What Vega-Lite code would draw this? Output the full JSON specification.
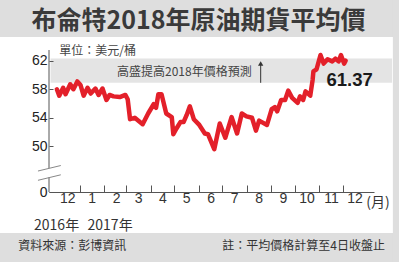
{
  "$schema": "https://vega.github.io/schema/vega-lite/v6.json",
  "width": 325,
  "height": 142,
  "autosize": {"type": "none"},
  "padding": {"left": 49, "top": 50, "right": 25, "bottom": 70},
  "background": "#ffffff",
  "config": {
    "view": {"stroke": null},
    "font": "Noto Sans CJK TC",
    "axis": {"labelOverlap": false, "labelBound": false, "labelFlush": false}
  },
  "data": {"values": [{"note": "annotation"}]},
  "resolve": {"axis": {"x": "independent", "y": "independent"}},
  "datasets": {
    "brent": [
      {"date": "2016-12-03", "price": 58.0},
      {"date": "2016-12-06", "price": 57.1},
      {"date": "2016-12-11", "price": 58.2},
      {"date": "2016-12-14", "price": 57.3},
      {"date": "2016-12-20", "price": 58.7},
      {"date": "2016-12-24", "price": 58.0},
      {"date": "2016-12-29", "price": 59.1},
      {"date": "2017-01-02", "price": 58.6},
      {"date": "2017-01-06", "price": 57.1},
      {"date": "2017-01-11", "price": 58.2},
      {"date": "2017-01-15", "price": 57.4},
      {"date": "2017-01-21", "price": 58.1},
      {"date": "2017-01-25", "price": 57.2},
      {"date": "2017-01-30", "price": 58.1},
      {"date": "2017-02-04", "price": 56.5},
      {"date": "2017-02-08", "price": 57.2},
      {"date": "2017-02-13", "price": 57.0},
      {"date": "2017-02-21", "price": 56.9},
      {"date": "2017-02-28", "price": 57.2},
      {"date": "2017-03-03", "price": 56.6},
      {"date": "2017-03-06", "price": 53.8},
      {"date": "2017-03-12", "price": 54.0},
      {"date": "2017-03-22", "price": 53.1},
      {"date": "2017-03-29", "price": 54.6},
      {"date": "2017-04-05", "price": 55.9},
      {"date": "2017-04-08", "price": 55.4},
      {"date": "2017-04-11", "price": 57.3},
      {"date": "2017-04-15", "price": 57.3},
      {"date": "2017-04-21", "price": 54.6},
      {"date": "2017-04-28", "price": 54.1},
      {"date": "2017-04-30", "price": 51.7},
      {"date": "2017-05-04", "price": 52.5},
      {"date": "2017-05-09", "price": 53.4},
      {"date": "2017-05-13", "price": 53.4},
      {"date": "2017-05-17", "price": 54.4},
      {"date": "2017-05-21", "price": 55.6},
      {"date": "2017-05-26", "price": 53.8},
      {"date": "2017-06-02", "price": 53.0},
      {"date": "2017-06-09", "price": 51.8},
      {"date": "2017-06-13", "price": 51.7},
      {"date": "2017-06-21", "price": 49.6},
      {"date": "2017-06-28", "price": 53.2},
      {"date": "2017-07-05", "price": 51.2},
      {"date": "2017-07-13", "price": 54.1},
      {"date": "2017-07-20", "price": 51.8},
      {"date": "2017-07-26", "price": 54.6},
      {"date": "2017-08-01", "price": 54.2},
      {"date": "2017-08-08", "price": 54.0},
      {"date": "2017-08-13", "price": 52.2},
      {"date": "2017-08-17", "price": 53.6},
      {"date": "2017-08-27", "price": 53.0},
      {"date": "2017-09-02", "price": 55.2},
      {"date": "2017-09-06", "price": 55.5},
      {"date": "2017-09-09", "price": 54.9},
      {"date": "2017-09-14", "price": 56.5},
      {"date": "2017-09-19", "price": 56.5},
      {"date": "2017-09-23", "price": 57.8},
      {"date": "2017-09-28", "price": 56.8},
      {"date": "2017-10-05", "price": 56.1},
      {"date": "2017-10-08", "price": 57.0},
      {"date": "2017-10-12", "price": 56.5},
      {"date": "2017-10-15", "price": 57.7},
      {"date": "2017-10-21", "price": 57.1},
      {"date": "2017-10-24", "price": 59.3},
      {"date": "2017-10-25", "price": 60.5},
      {"date": "2017-10-29", "price": 60.8},
      {"date": "2017-11-03", "price": 62.8},
      {"date": "2017-11-07", "price": 61.6},
      {"date": "2017-11-12", "price": 62.2},
      {"date": "2017-11-18", "price": 61.9},
      {"date": "2017-11-22", "price": 62.3},
      {"date": "2017-11-26", "price": 61.9},
      {"date": "2017-11-29", "price": 62.8},
      {"date": "2017-12-03", "price": 61.6},
      {"date": "2017-12-05", "price": 62.0}
    ]
  },
  "layer": [
    {
      "mark": {"type": "rect", "color": "#dedede", "clip": false},
      "encoding": {
        "x": {
          "datum": {"year": 2016, "month": 8, "date": 1, "utc": true}, "type": "temporal",
          "scale": {"type": "utc", "nice": false, "domain": [{"year": 2016, "month": 11, "date": 23, "utc": true}, {"year": 2018, "month": 1, "date": 10, "utc": true}]},
          "axis": {
            "orient": "bottom",
            "values": [
              {"year": 2016, "month": 12, "date": 1, "utc": true},
              {"year": 2017, "month": 1, "date": 1, "utc": true},
              {"year": 2017, "month": 2, "date": 1, "utc": true},
              {"year": 2017, "month": 3, "date": 1, "utc": true},
              {"year": 2017, "month": 4, "date": 1, "utc": true},
              {"year": 2017, "month": 5, "date": 1, "utc": true},
              {"year": 2017, "month": 6, "date": 1, "utc": true},
              {"year": 2017, "month": 7, "date": 1, "utc": true},
              {"year": 2017, "month": 8, "date": 1, "utc": true},
              {"year": 2017, "month": 9, "date": 1, "utc": true},
              {"year": 2017, "month": 10, "date": 1, "utc": true},
              {"year": 2017, "month": 11, "date": 1, "utc": true},
              {"year": 2017, "month": 12, "date": 1, "utc": true}
            ],
            "labelExpr": "utcFormat(datum.value, '%-m')",
            "title": null, "grid": false,
            "ticks": true, "tickSize": -7, "tickColor": "#555555", "tickWidth": 1,
            "tickOpacity": {"condition": {"test": "utcyear(datum.value) == 2016", "value": 0}, "value": 1},
            "domain": true, "domainColor": "#555555", "domainWidth": 1,
            "labelOffset": 12, "labelPadding": 6, "labelFlush": false, "labelOverlap": false, "labelBound": false,
            "labelFont": "Liberation Sans", "labelFontSize": 14, "labelColor": "#333333", "zindex": 1
          }
        },
        "x2": {"datum": {"year": 2018, "month": 5, "date": 1, "utc": true}},
        "y": {
          "datum": 65.32, "type": "quantitative",
          "scale": {"nice": false, "zero": false, "domain": [43.6, 63.5]},
          "axis": {
            "orient": "left",
            "values": [43.6, 50, 54, 58, 62],
            "labelExpr": "datum.value < 45 ? '0' : datum.label",
            "title": null, "grid": false, "domain": false,
            "tickSize": -4, "tickColor": "#555555", "labelPadding": 6,
            "labelOverlap": false, "labelBound": false, "labelFlush": false,
            "labelFont": "Liberation Sans", "labelFontSize": 14, "labelColor": "#222222", "zindex": 1
          }
        },
        "y2": {"datum": 75}
      }
    },
    {
      "mark": {"type": "rect", "color": "#dedede", "clip": false},
      "encoding": {
        "x": {"datum": {"year": 2016, "month": 8, "date": 1, "utc": true}, "type": "temporal", "axis": null},
        "x2": {"datum": {"year": 2018, "month": 5, "date": 1, "utc": true}},
        "y": {"datum": 30, "type": "quantitative", "axis": null},
        "y2": {"datum": 37.85}
      }
    },
    {
      "mark": {"type": "rect", "color": "#dedede", "clip": false},
      "encoding": {
        "x": {"datum": {"year": 2018, "month": 2, "date": 3, "utc": true}, "type": "temporal", "axis": null},
        "x2": {"datum": {"year": 2018, "month": 5, "date": 1, "utc": true}},
        "y": {"datum": 30, "type": "quantitative", "axis": null},
        "y2": {"datum": 75}
      }
    },
    {
      "mark": {"type": "rect", "color": "#e4e4e4", "clip": false},
      "encoding": {
        "x": {"datum": {"year": 2016, "month": 11, "date": 25, "utc": true}, "type": "temporal", "axis": null},
        "x2": {"datum": {"year": 2018, "month": 2, "date": 2, "utc": true}},
        "y": {"datum": 58.9, "type": "quantitative", "axis": null},
        "y2": {"datum": 62.3}
      }
    },
    {
      "mark": {"type": "rule", "color": "#555555", "strokeWidth": 1, "clip": false},
      "encoding": {
        "x": {"datum": {"year": 2016, "month": 11, "date": 23, "utc": true}, "type": "temporal", "axis": null},
        "y": {"datum": 63.5, "type": "quantitative", "axis": null},
        "y2": {"datum": 46.93}
      }
    },
    {
      "mark": {"type": "rule", "color": "#555555", "strokeWidth": 1, "clip": false},
      "encoding": {
        "x": {"datum": {"year": 2016, "month": 11, "date": 23, "utc": true}, "type": "temporal", "axis": null},
        "y": {"datum": 45.66, "type": "quantitative", "axis": null},
        "y2": {"datum": 43.6}
      }
    },
    {
      "mark": {"type": "rule", "color": "#888888", "strokeWidth": 1, "clip": false},
      "encoding": {
        "x": {"datum": {"year": 2016, "month": 11, "date": 9, "utc": true}, "type": "temporal", "axis": null},
        "x2": {"datum": {"year": 2016, "month": 12, "date": 8, "utc": true}},
        "y": {"datum": 46.54, "type": "quantitative", "axis": null},
        "y2": {"datum": 47.31}
      }
    },
    {
      "mark": {"type": "rule", "color": "#888888", "strokeWidth": 1, "clip": false},
      "encoding": {
        "x": {"datum": {"year": 2016, "month": 11, "date": 9, "utc": true}, "type": "temporal", "axis": null},
        "x2": {"datum": {"year": 2016, "month": 12, "date": 8, "utc": true}},
        "y": {"datum": 45.24, "type": "quantitative", "axis": null},
        "y2": {"datum": 46.01}
      }
    },
    {
      "mark": {"type": "rule", "color": "#333333", "strokeWidth": 1, "clip": false},
      "encoding": {
        "x": {"datum": {"year": 2017, "month": 8, "date": 19, "utc": true}, "type": "temporal", "axis": null},
        "y": {"datum": 58.9, "type": "quantitative", "axis": null},
        "y2": {"datum": 61.5}
      }
    },
    {
      "mark": {"type": "point", "shape": "triangle-up", "filled": true, "color": "#333333", "size": 28, "opacity": 1, "clip": false},
      "encoding": {
        "x": {"datum": {"year": 2017, "month": 8, "date": 19, "utc": true}, "type": "temporal", "axis": null},
        "y": {"datum": 61.6, "type": "quantitative", "axis": null}
      }
    },
    {
      "data": {"name": "brent"},
      "mark": {"type": "line", "color": "#e3202a", "strokeWidth": 4.5, "strokeJoin": "round", "strokeCap": "round", "clip": false},
      "encoding": {
        "x": {"field": "date", "type": "temporal", "axis": null},
        "y": {"field": "price", "type": "quantitative", "axis": null}
      }
    },
    {
      "mark": {"type": "text", "text": "布侖特2018年原油期貨平均價", "font": "Noto Sans CJK TC", "fontWeight": "bold", "fontSize": 25, "color": "#3a3a3a", "align": "center", "baseline": "middle", "clip": false},
      "encoding": {
        "x": {"datum": {"year": 2017, "month": 6, "date": 1, "utc": true}, "type": "temporal", "axis": null},
        "y": {"datum": 67.55, "type": "quantitative", "axis": null}
      }
    },
    {
      "mark": {"type": "text", "text": "單位：美元/桶", "font": "Noto Sans CJK TC", "fontSize": 12, "color": "#444444", "align": "left", "baseline": "middle", "clip": false},
      "encoding": {
        "x": {"datum": {"year": 2016, "month": 12, "date": 6, "utc": true}, "type": "temporal", "axis": null},
        "y": {"datum": 63.36, "type": "quantitative", "axis": null}
      }
    },
    {
      "mark": {"type": "text", "text": "高盛提高2018年價格預測", "font": "Noto Sans CJK TC", "fontSize": 12, "color": "#444444", "align": "center", "baseline": "middle", "clip": false},
      "encoding": {
        "x": {"datum": {"year": 2017, "month": 5, "date": 14, "utc": true}, "type": "temporal", "axis": null},
        "y": {"datum": 60.46, "type": "quantitative", "axis": null}
      }
    },
    {
      "mark": {"type": "text", "text": "61.37", "font": "Liberation Sans", "fontWeight": "bold", "fontSize": 18.5, "color": "#1a1a1a", "align": "center", "baseline": "middle", "clip": false},
      "encoding": {
        "x": {"datum": {"year": 2017, "month": 12, "date": 10, "utc": true}, "type": "temporal", "axis": null},
        "y": {"datum": 59.3, "type": "quantitative", "axis": null}
      }
    },
    {
      "mark": {"type": "text", "text": "(月)", "font": "Noto Sans CJK TC", "fontSize": 14, "color": "#333333", "align": "center", "baseline": "middle", "clip": false},
      "encoding": {
        "x": {"datum": {"year": 2018, "month": 1, "date": 15, "utc": true}, "type": "temporal", "axis": null},
        "y": {"datum": 41.99, "type": "quantitative", "axis": null}
      }
    },
    {
      "mark": {"type": "text", "text": "2016年", "font": "Noto Sans CJK TC", "fontSize": 14, "color": "#333333", "align": "left", "baseline": "middle", "clip": false},
      "encoding": {
        "x": {"datum": {"year": 2016, "month": 11, "date": 4, "utc": true}, "type": "temporal", "axis": null},
        "y": {"datum": 38.8, "type": "quantitative", "axis": null}
      }
    },
    {
      "mark": {"type": "text", "text": "2017年", "font": "Noto Sans CJK TC", "fontSize": 14, "color": "#333333", "align": "left", "baseline": "middle", "clip": false},
      "encoding": {
        "x": {"datum": {"year": 2017, "month": 1, "date": 11, "utc": true}, "type": "temporal", "axis": null},
        "y": {"datum": 38.8, "type": "quantitative", "axis": null}
      }
    },
    {
      "mark": {"type": "text", "text": "資料來源：彭博資訊", "font": "Noto Sans CJK TC", "fontSize": 12, "color": "#333333", "align": "left", "baseline": "middle", "clip": false},
      "encoding": {
        "x": {"datum": {"year": 2016, "month": 10, "date": 15, "utc": true}, "type": "temporal", "axis": null},
        "y": {"datum": 36.03, "type": "quantitative", "axis": null}
      }
    },
    {
      "mark": {"type": "text", "text": "註：平均價格計算至4日收盤止", "font": "Noto Sans CJK TC", "fontSize": 12, "color": "#333333", "align": "right", "baseline": "middle", "clip": false},
      "encoding": {
        "x": {"datum": {"year": 2018, "month": 1, "date": 24, "utc": true}, "type": "temporal", "axis": null},
        "y": {"datum": 36.03, "type": "quantitative", "axis": null}
      }
    }
  ]
}
